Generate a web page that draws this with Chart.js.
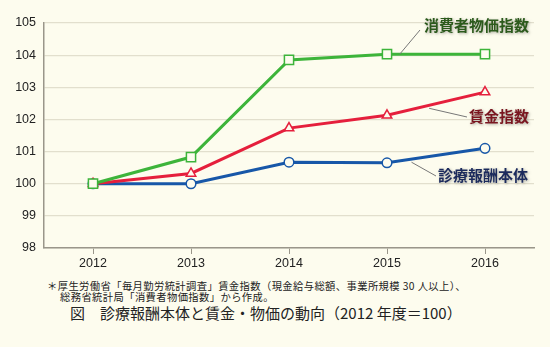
<!DOCTYPE html>
<html lang="ja">
<head>
<meta charset="utf-8">
<script src="https://cdn.jsdelivr.net/npm/chart.js@4"></script>
<style>
  html, body { margin: 0; padding: 0; background: #fdfcee; }
  #wrap { position: relative; width: 550px; height: 347px; overflow: hidden; }
  #chartBox { position: absolute; left: 0; top: 0; width: 550px; height: 273px; }
  .note { position: absolute; font-family: "Noto Sans CJK JP", sans-serif; color: #222; white-space: nowrap; }
  #note1 { left: 47px; top: 280px; font-size: 10.3px; line-height: 11px; letter-spacing: 0.4px; }
  #note2 { left: 60px; top: 291px; font-size: 10.3px; line-height: 11px; letter-spacing: 0.4px; }
  #caption { left: 70px; top: 303px; font-size: 15px; line-height: 19px; }
</style>
</head>
<body>
<div id="wrap">
  <div id="chartBox"><canvas id="mainChart"></canvas></div>
  <div class="note" id="note1">＊厚生労働省「毎月勤労統計調査」賃金指数（現金給与総額、事業所規模 30 人以上）、</div>
  <div class="note" id="note2">総務省統計局「消費者物価指数」から作成。</div>
  <div class="note" id="caption">図　診療報酬本体と賃金・物価の動向（2012 年度＝100）</div>
</div>
<script>
document.addEventListener('DOMContentLoaded', function() {
    const years = ['2012', '2013', '2014', '2015', '2016'];
    const cpi = [100, 100.83, 103.85, 104.03, 104.03];      // 消費者物価指数
    const wages = [100, 100.32, 101.73, 102.13, 102.85];    // 賃金指数
    const fees = [100, 100, 100.67, 100.65, 101.1];         // 診療報酬本体

    const bg = '#fdfcee';

    // series labels with leader lines, drawn after the datasets
    const labelPlugin = {
        id: 'seriesLabels',
        afterDatasetsDraw(chart) {
            const ctx = chart.ctx;
            const items = [
                { ds: 0, seg: 3, f: 0.13, dy: 0, tx: 420, ty: 30, text: '消費者物価指数', x: 424, y: 25, color: '#2c5a1c' },
                { ds: 1, seg: 3, f: 0.43, dy: 3, tx: 467, ty: 117, text: '賃金指数', x: 469, y: 116, color: '#7a1620' },
                { ds: 2, seg: 3, f: 0.25, dy: 3, tx: 436, ty: 176, text: '診療報酬本体', x: 438, y: 175, color: '#1b2a5c' }
            ];
            ctx.save();
            items.forEach(it => {
                const pts = chart.getDatasetMeta(it.ds).data;
                const a = pts[it.seg], b = pts[it.seg + 1];
                const sx = a.x + (b.x - a.x) * it.f;
                const sy = a.y + (b.y - a.y) * it.f + it.dy;
                ctx.strokeStyle = '#777';
                ctx.lineWidth = 1;
                ctx.beginPath();
                ctx.moveTo(sx, sy);
                ctx.lineTo(it.tx, it.ty);
                ctx.stroke();

                ctx.font = 'bold 15px "Noto Sans CJK JP"';
                ctx.textBaseline = 'middle';
                ctx.textAlign = 'left';
                ctx.shadowColor = 'rgba(120,120,110,0.6)';
                ctx.shadowBlur = 3;
                ctx.shadowOffsetX = 1;
                ctx.shadowOffsetY = 1;
                ctx.fillStyle = it.color;
                ctx.fillText(it.text, it.x, it.y);
                ctx.shadowColor = 'transparent';
            });
            ctx.restore();
        }
    };

    new Chart(document.getElementById('mainChart'), {
        type: 'line',
        data: {
            labels: years,
            datasets: [
                {
                    label: '消費者物価指数', data: cpi,
                    borderColor: '#3db43a', backgroundColor: bg,
                    borderWidth: 3, pointStyle: 'rect', pointRadius: 6.5,
                    pointBorderWidth: 1.5, tension: 0
                },
                {
                    label: '賃金指数', data: wages,
                    borderColor: '#e51f3c', backgroundColor: bg,
                    borderWidth: 3, pointStyle: 'triangle', pointRadius: 5.5,
                    pointBorderWidth: 1.5, tension: 0
                },
                {
                    label: '診療報酬本体', data: fees,
                    borderColor: '#1757a8', backgroundColor: bg,
                    borderWidth: 3, pointStyle: 'circle', pointRadius: 4.8,
                    pointBorderWidth: 1.5, tension: 0
                }
            ]
        },
        options: {
            responsive: true,
            maintainAspectRatio: false,
            animation: false,
            layout: { padding: { top: 23, right: 16, left: 0, bottom: 0 } },
            plugins: { legend: { display: false }, tooltip: { enabled: false } },
            scales: {
                x: {
                    offset: true,
                    grid: { drawOnChartArea: false, drawTicks: true, tickLength: 6, color: '#9a968a', lineWidth: 1 },
                    border: { color: '#9a968a', width: 1.5 },
                    ticks: { color: '#222', font: { family: 'Liberation Sans', size: 12.5 }, padding: 2 }
                },
                y: {
                    min: 98, max: 105,
                    afterFit(scale) { scale.width = 44; },
                    grid: { color: '#e2dfcd', lineWidth: 1.2, drawTicks: false },
                    border: { color: '#9a968a', width: 1.5 },
                    ticks: { stepSize: 1, color: '#222', font: { family: 'Liberation Sans', size: 12.5 }, padding: 8 }
                }
            }
        },
        plugins: [labelPlugin]
    });
});
</script>
</body>
</html>
